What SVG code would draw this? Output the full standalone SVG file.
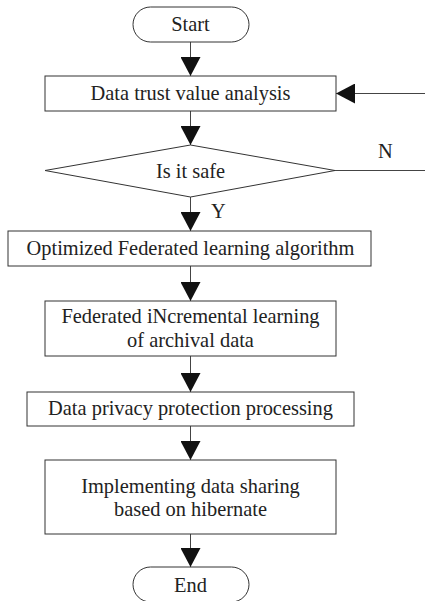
<svg xmlns="http://www.w3.org/2000/svg" width="425" height="601" viewBox="0 0 425 601">
<style>
.n{fill:#fff;stroke:#333;stroke-width:1}
.t{font-family:"Liberation Serif","Times New Roman",serif;font-size:20.4px;fill:#222;text-anchor:middle}
.c{stroke:#444;stroke-width:1;fill:none}
.l{font-family:"Liberation Serif","Times New Roman",serif;font-size:20.4px;fill:#222}
</style>
<defs>
<marker id="ah" markerWidth="20" markerHeight="20" viewBox="0 0 20 20" refX="19" refY="10" orient="auto" markerUnits="userSpaceOnUse">
<path d="M0,0 L19,10 L0,20 Z" fill="#111"/>
</marker>
</defs>
<rect width="425" height="601" fill="#fff"/>
<g id="connectors">
<line class="c" x1="190.5" y1="42" x2="190.5" y2="76" marker-end="url(#ah)"/>
<line class="c" x1="190.5" y1="111" x2="190.5" y2="145" marker-end="url(#ah)"/>
<line class="c" x1="190.5" y1="197" x2="190.5" y2="231" marker-end="url(#ah)"/>
<line class="c" x1="190.5" y1="266" x2="190.5" y2="301" marker-end="url(#ah)"/>
<line class="c" x1="190.5" y1="356" x2="190.5" y2="392" marker-end="url(#ah)"/>
<line class="c" x1="190.5" y1="426" x2="190.5" y2="460" marker-end="url(#ah)"/>
<line class="c" x1="190.5" y1="534" x2="190.5" y2="567" marker-end="url(#ah)"/>
<polyline class="c" points="335,170.5 425,170.5"/>
<line class="c" x1="425" y1="93.5" x2="336" y2="93.5" marker-end="url(#ah)"/>
<text class="l" x="378" y="158">N</text>
<text class="l" x="211" y="218">Y</text>
</g>
<g id="start">
<rect class="n" x="133" y="7" width="116" height="35" rx="17.5"/>
<text class="t" x="190.5" y="31">Start</text>
</g>
<g id="trust">
<rect class="n" x="45" y="76" width="291" height="35"/>
<text class="t" x="190.5" y="100">Data trust value analysis</text>
</g>
<g id="safe">
<polygon class="n" points="190.5,145 335,170.5 190.5,197 45,170.5"/>
<text class="t" x="190.5" y="178">Is it safe</text>
</g>
<g id="optimized">
<rect class="n" x="8" y="231" width="363" height="35"/>
<text class="t" x="190.5" y="255">Optimized Federated learning algorithm</text>
</g>
<g id="incremental">
<rect class="n" x="45" y="301" width="291" height="55"/>
<text class="t" x="190.5" y="323">Federated iNcremental learning</text>
<text class="t" x="190.5" y="347">of archival data</text>
</g>
<g id="privacy">
<rect class="n" x="27" y="392" width="327" height="34"/>
<text class="t" x="190.5" y="415">Data privacy protection processing</text>
</g>
<g id="sharing">
<rect class="n" x="45" y="460" width="291" height="74"/>
<text class="t" x="190.5" y="493">Implementing data sharing</text>
<text class="t" x="190.5" y="516">based on hibernate</text>
</g>
<g id="end">
<rect class="n" x="133" y="567" width="116" height="35" rx="17.5"/>
<text class="t" x="190.5" y="592">End</text>
</g>
</svg>
